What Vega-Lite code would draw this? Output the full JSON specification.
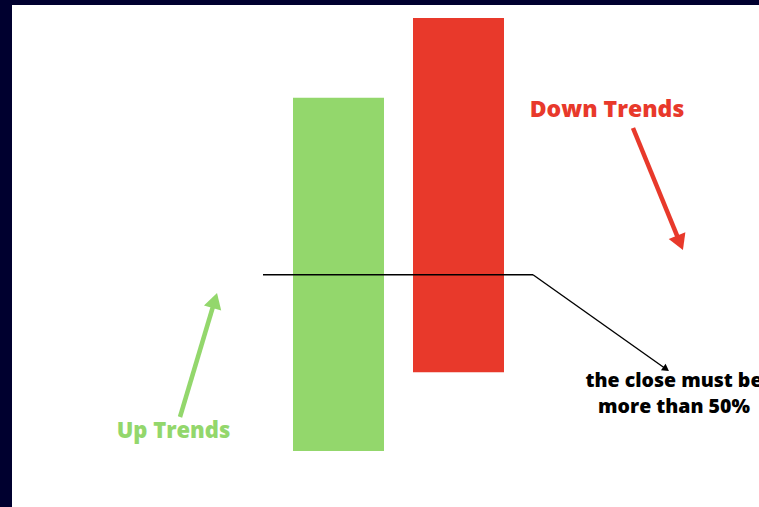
{
  "$schema": "https://vega.github.io/schema/vega-lite/v6.json",
  "width": 759,
  "height": 507,
  "autosize": {"type": "fit", "contains": "padding"},
  "padding": {"left": 12, "top": 5, "right": 0, "bottom": 0},
  "background": "#00002f",
  "config": {"view": {"stroke": null, "fill": "#ffffff"}},
  "encoding": {
    "x": {"type": "quantitative", "scale": {"domain": [0, 747], "nice": false, "zero": false}, "axis": null},
    "y": {"type": "quantitative", "scale": {"domain": [0, 502], "nice": false, "zero": false}, "axis": null}
  },
  "layer": [
    {
      "data": {"values": [
        {"candle": "up", "left": 281, "right": 372, "open": 56, "close": 409.3},
        {"candle": "down", "left": 401, "right": 492, "open": 489, "close": 134.7}
      ]},
      "mark": {"type": "rect"},
      "encoding": {
        "x": {"field": "left", "type": "quantitative"},
        "x2": {"field": "right"},
        "y": {"field": "open", "type": "quantitative"},
        "y2": {"field": "close"},
        "color": {"field": "candle", "type": "nominal", "scale": {"domain": ["up", "down"], "range": ["#93d76c", "#e8392b"]}, "legend": null}
      }
    },
    {
      "data": {"values": [
        {"x": 251, "x2": 521, "y": 232.3, "y2": 232.3},
        {"x": 521, "x2": 654, "y": 232.3, "y2": 138}
      ]},
      "mark": {"type": "rule", "color": "#000000", "strokeWidth": 1.4},
      "encoding": {
        "x": {"field": "x", "type": "quantitative"},
        "x2": {"field": "x2"},
        "y": {"field": "y", "type": "quantitative"},
        "y2": {"field": "y2"}
      }
    },
    {
      "data": {"values": [{"x": 654.1, "y": 138}]},
      "mark": {"type": "point", "shape": "triangle-up", "filled": true, "color": "#000000", "size": 64, "angle": 125, "opacity": 1},
      "encoding": {
        "x": {"field": "x", "type": "quantitative"},
        "y": {"field": "y", "type": "quantitative"}
      }
    },
    {
      "data": {"values": [{"x": 621, "x2": 668, "y": 379, "y2": 264.2}]},
      "mark": {"type": "rule", "color": "#e8392b", "strokeWidth": 4.5},
      "encoding": {
        "x": {"field": "x", "type": "quantitative"},
        "x2": {"field": "x2"},
        "y": {"field": "y", "type": "quantitative"},
        "y2": {"field": "y2"}
      }
    },
    {
      "data": {"values": [{"x": 668, "y": 264.2}]},
      "mark": {"type": "point", "shape": "triangle-up", "filled": true, "color": "#e8392b", "size": 324, "angle": 157.7, "opacity": 1},
      "encoding": {
        "x": {"field": "x", "type": "quantitative"},
        "y": {"field": "y", "type": "quantitative"}
      }
    },
    {
      "data": {"values": [{"x": 168, "x2": 202.8, "y": 90, "y2": 206.5}]},
      "mark": {"type": "rule", "color": "#93d76c", "strokeWidth": 4.5},
      "encoding": {
        "x": {"field": "x", "type": "quantitative"},
        "x2": {"field": "x2"},
        "y": {"field": "y", "type": "quantitative"},
        "y2": {"field": "y2"}
      }
    },
    {
      "data": {"values": [{"x": 202.8, "y": 206.5}]},
      "mark": {"type": "point", "shape": "triangle-up", "filled": true, "color": "#93d76c", "size": 324, "angle": 16.6, "opacity": 1},
      "encoding": {
        "x": {"field": "x", "type": "quantitative"},
        "y": {"field": "y", "type": "quantitative"}
      }
    },
    {
      "data": {"values": [{"label": "Down Trends", "x": 595, "y": 390}]},
      "mark": {"type": "text", "font": "Open Sans", "fontWeight": 800, "fontSize": 23, "color": "#e8392b", "align": "center", "baseline": "alphabetic"},
      "encoding": {
        "x": {"field": "x", "type": "quantitative"},
        "y": {"field": "y", "type": "quantitative"},
        "text": {"field": "label"}
      }
    },
    {
      "data": {"values": [{"label": "Up Trends", "x": 161.5, "y": 69}]},
      "mark": {"type": "text", "font": "Open Sans", "fontWeight": 800, "fontSize": 22, "color": "#93d76c", "align": "center", "baseline": "alphabetic"},
      "encoding": {
        "x": {"field": "x", "type": "quantitative"},
        "y": {"field": "y", "type": "quantitative"},
        "text": {"field": "label"}
      }
    },
    {
      "data": {"values": [
        {"label": "the close must be", "x": 662, "y": 120},
        {"label": "more than 50%", "x": 662, "y": 94}
      ]},
      "mark": {"type": "text", "font": "Open Sans", "fontWeight": 800, "fontSize": 19.5, "color": "#000000", "align": "center", "baseline": "alphabetic", "clip": true},
      "encoding": {
        "x": {"field": "x", "type": "quantitative"},
        "y": {"field": "y", "type": "quantitative"},
        "text": {"field": "label"}
      }
    }
  ]
}
